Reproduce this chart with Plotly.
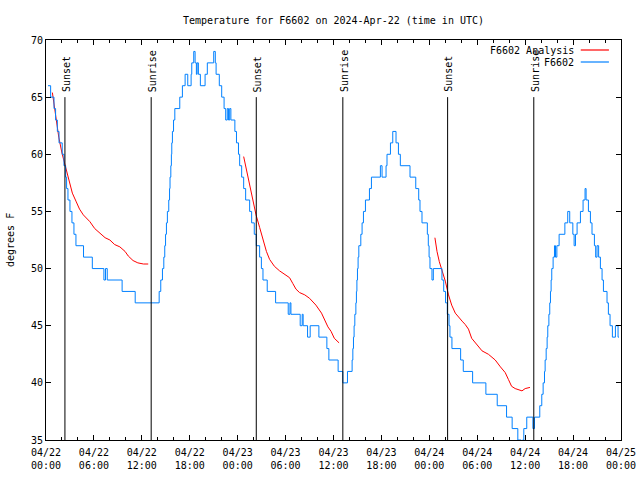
import pandas as pd
import plotly.graph_objects as go

# ---------------- data ----------------
START = "2024-04-22 00:00"
TITLE = "Temperature for F6602 on 2024-Apr-22 (time in UTC)"
Y_LABEL = "degrees F"

# Observed F6602 temperature: hours after start, value (step changes)
obs_hours = [
    0.25, 0.58, 1.0, 1.2, 1.42, 1.63, 2.03, 2.25, 2.46, 2.58, 2.75, 3.0, 3.25, 3.5, 3.75,
    4.7, 5.8, 7.25, 7.45, 7.67, 9.53, 11.17, 14.17, 14.37, 14.58, 14.75, 14.87, 14.97,
    15.08, 15.2, 15.37, 15.47, 15.53, 15.63, 15.7, 15.75, 15.83, 15.97, 16.13, 16.75,
    17.08, 17.42, 17.75, 18.17, 18.25, 18.5, 18.67, 18.83, 18.92, 19.08, 19.33, 19.92,
    20.2, 21.0, 21.2, 21.3, 21.7, 22.0, 22.3, 22.5, 22.7, 22.85, 23.0, 23.15, 23.65,
    23.85, 24.1, 24.25, 24.5, 24.75, 25.0, 25.5, 25.75, 26.08, 26.33, 26.75, 26.97,
    27.17, 27.7, 28.75, 30.33, 30.55, 30.67, 31.83, 32.08, 32.2, 32.75, 33.08, 34.17,
    35.17, 35.42, 36.58, 37.17, 37.75, 38.33, 38.42, 38.5, 38.58, 38.67, 38.8, 38.87,
    38.93, 39.0, 39.08, 39.17, 39.42, 39.58, 39.75, 40.0, 40.5, 40.75, 41.87, 42.08,
    42.58, 42.7, 43.13, 43.42, 43.83, 44.13, 44.37, 45.58, 46.3, 46.67, 46.83, 47.08,
    47.75, 47.87, 47.97, 48.08, 48.33, 48.5, 49.58, 49.8, 50.03, 50.25, 50.47, 50.58,
    50.83, 51.92, 52.25, 53.42, 55.08, 56.5, 57.67, 58.37, 59.08, 59.5, 59.67, 59.83,
    60.2, 60.97, 61.17, 61.83, 62.08, 62.25, 62.42, 62.5, 62.63, 62.75, 62.83, 62.97,
    63.08, 63.17, 63.25, 63.33, 63.5, 63.67, 63.8, 63.97, 64.25, 64.97, 65.33, 65.58,
    65.97, 66.13, 66.3, 66.5, 66.92, 67.25, 67.5, 67.63, 67.92, 68.17, 68.37, 68.67,
    68.83, 69.0, 69.2, 69.42, 69.63, 69.8, 70.25, 70.42, 70.63, 70.92, 71.3, 71.63, 71.75,
]
obs_temp = [
    66, 65, 64, 63, 62, 61, 60, 59, 58, 57, 56, 55, 54, 53, 52,
    51, 50, 49, 50, 49, 48, 47, 48, 49, 50, 51, 52, 53,
    54, 55, 56, 57, 58, 59, 60, 61, 62, 63, 64, 65,
    66, 67, 66, 67, 68, 69, 68, 67, 68, 67, 66, 67,
    68, 69, 68, 67, 66, 65, 64, 63, 64, 63, 64, 63, 62,
    61, 60, 59, 58, 57, 56, 55, 54, 53, 52, 51, 50,
    49, 48, 47, 46, 47, 46, 45, 46, 45, 44, 45, 44,
    43, 42, 41, 40, 41, 42, 43, 44, 45, 46, 47, 48,
    49, 50, 51, 52, 53, 54, 55, 56, 57, 58, 59, 58,
    59, 60, 61, 62, 61, 60, 59, 58, 57, 56, 55, 54,
    53, 52, 51, 50, 49, 50, 49, 48, 47, 46, 45, 44,
    43, 42, 41, 40, 39, 38, 37, 36, 35, 34, 35, 36,
    37, 36, 37, 38, 39, 40, 41, 42, 43, 44, 45, 46,
    47, 48, 49, 50, 51, 52, 51, 52, 53, 54, 55, 54,
    53, 52, 53, 54, 55, 56, 57, 56, 55, 54, 53, 52,
    51, 52, 51, 50, 49, 48, 47, 46, 45, 44, 45, 44, 44,
]

# F6602 Analysis (three nightly segments; None separates them)
ana_hours = [
    0.8, 1.2, 1.6, 2.0, 2.45, 2.9, 3.3, 3.75, 4.2, 4.67, 5.1, 5.5, 6.1, 6.75, 7.4, 8.0,
    8.6, 9.25, 9.9, 10.3, 10.9, 11.5, 12.2, 12.8, None,
    24.75, 25.1, 25.4, 25.7, 26.0, 26.3, 26.75, 27.2, 27.6, 28.0, 28.6, 29.25, 29.9,
    30.5, 30.9, 31.3, 31.75, 32.4, 33.0, 33.4, 33.8, 34.5, 34.9, 35.3, 35.7, 36.1, 36.7, None,
    48.7, 48.96, 49.25, 49.6, 50.0, 50.4, 50.8, 51.25, 51.7, 52.1, 52.5, 52.9, 53.3,
    53.75, 54.2, 54.6, 55.4, 56.25, 56.9, 57.5, 57.9, 58.3, 58.75, 59.6, 60.0, 60.6,
]
ana_temp = [
    65.4, 63.3, 61.5, 60.1, 58.9, 57.6, 56.6, 55.9, 55.2, 54.7, 54.4, 54.1, 53.5, 53.1, 52.7, 52.5,
    52.1, 51.9, 51.5, 51.1, 50.7, 50.5, 50.4, 50.4, None,
    59.8, 58.7, 57.6, 56.8, 55.9, 54.7, 53.6, 52.4, 51.5, 50.8, 50.2, 49.8, 49.5,
    49.2, 48.7, 48.2, 47.9, 47.7, 47.4, 47.1, 46.8, 46.1, 45.5, 44.9, 44.5, 43.9, 43.5, None,
    52.7, 51.5, 50.6, 49.8, 48.9, 47.7, 46.8, 46.1, 45.7, 45.4, 45.1, 44.7, 43.9,
    43.5, 43.1, 42.8, 42.5, 42.0, 41.4, 40.9, 40.3, 39.7, 39.5, 39.3, 39.5, 39.6,
]

# Sun events (hours after start)
event_hours = [2.37, 13.17, 26.33, 37.17, 50.29, 61.08]
event_names = ["Sunset", "Sunrise", "Sunset", "Sunrise", "Sunset", "Sunrise"]
event_top = 65

series_names = ["F6602 Analysis", "F6602"]
series_colors = ["#ff0000", "#0080ff"]

X_RANGE_HOURS = [0, 72]
Y_RANGE = [35, 70]

# ---------------- build ----------------
base = pd.Timestamp(START)


def to_time(hours):
    return [None if h is None else base + pd.Timedelta(hours=h) for h in hours]


FONT = "DejaVu Sans Mono"
fig = go.Figure()

fig.add_trace(go.Scatter(
    x=to_time(ana_hours), y=ana_temp, mode="lines", name=series_names[0],
    line=dict(color=series_colors[0], width=1), connectgaps=False,
))
fig.add_trace(go.Scatter(
    x=to_time(obs_hours), y=obs_temp, mode="lines", name=series_names[1],
    line=dict(color=series_colors[1], width=1, shape="hv"),
))

for h, name in zip(event_hours, event_names):
    t = base + pd.Timedelta(hours=h)
    fig.add_shape(type="line", xref="x", yref="y", x0=t, x1=t, y0=Y_RANGE[0], y1=event_top,
                  line=dict(color="black", width=1))
    fig.add_annotation(x=t, y=event_top, xref="x", yref="y", text=name, textangle=-90,
                       showarrow=False, yanchor="bottom", xanchor="center", yshift=3, xshift=1,
                       font=dict(family=FONT, size=10, color="black"))

# manual gnuplot-style key (text, then line sample on the right)
key_rows_y = [0.975, 0.945]
for name, color, yk in zip(series_names, series_colors, key_rows_y):
    fig.add_annotation(x=0.922, y=yk, xref="paper", yref="paper", text=name, showarrow=False,
                       xanchor="right", yanchor="middle",
                       font=dict(family=FONT, size=10, color="black"))
    fig.add_shape(type="line", xref="paper", yref="paper", x0=0.930, x1=0.979, y0=yk, y1=yk,
                  line=dict(color=color, width=1.2))

fig.add_annotation(x=-0.0626, y=0.5, xref="paper", yref="paper", text=Y_LABEL, textangle=-90,
                   showarrow=False, xanchor="center", yanchor="middle",
                   font=dict(family=FONT, size=10, color="black"))

fig.update_layout(
    width=640, height=480, autosize=False,
    margin=dict(l=46, r=19, t=40, b=40, autoexpand=False),
    paper_bgcolor="white", plot_bgcolor="white",
    showlegend=False,
    font=dict(family=FONT, size=10, color="black"),
    title=dict(text=TITLE, x=0.5, xref="paper", y=1 - 20 / 480, yref="container",
               xanchor="center", yanchor="middle", font=dict(family=FONT, size=10, color="black")),
)
fig.update_xaxes(
    type="date",
    range=to_time(X_RANGE_HOURS),
    tick0=base, dtick=6 * 3600 * 1000, tickformat="%m/%d<br>%H:%M",
    ticks="inside", ticklen=5, tickcolor="black", tickwidth=1, ticklabelstandoff=3,
    minor=dict(dtick=2 * 3600 * 1000, ticks="inside", ticklen=3, tickcolor="black", showgrid=False),
    showline=True, linecolor="black", linewidth=1, mirror="allticks",
    showgrid=False, zeroline=False, automargin=False,
    tickfont=dict(family=FONT, size=10, color="black"),
)
fig.update_yaxes(
    range=Y_RANGE, dtick=5, tick0=35,
    ticks="inside", ticklen=5, tickcolor="black", tickwidth=1,
    showline=True, linecolor="black", linewidth=1, mirror="allticks",
    showgrid=False, zeroline=False, automargin=False,
    tickfont=dict(family=FONT, size=10, color="black"),
)

fig.write_html(
    "out.html",
    config={"displayModeBar": False, "responsive": False},
    post_script="document.body.style.margin='0px';document.documentElement.style.overflow='hidden';",
)
